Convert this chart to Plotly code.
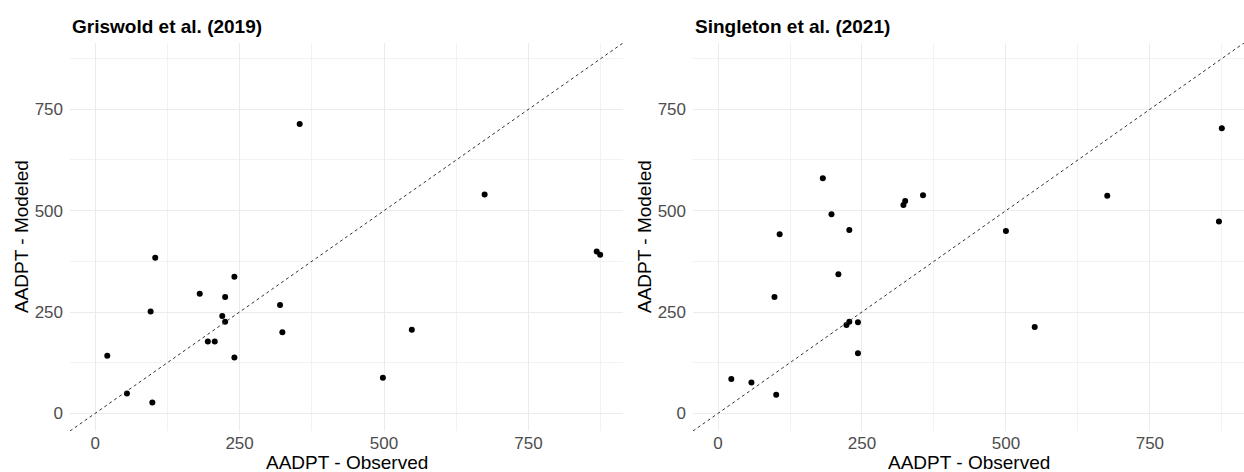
import plotly.graph_objects as go

# ---- data ----
obs_griswold = [21, 55, 96, 99, 104, 181, 195, 207, 220, 225, 225, 241, 241, 320, 324, 354, 498, 548, 674, 868, 874]
mod_griswold = [142, 49, 251, 27, 384, 295, 177, 177, 240, 287, 226, 337, 138, 267, 200, 714, 88, 206, 540, 399, 391]

obs_singleton = [23, 58, 98, 101, 107, 182, 197, 209, 223, 228, 228, 243, 243, 322, 325, 356, 500, 550, 676, 870, 875]
mod_singleton = [85, 76, 287, 46, 442, 580, 491, 343, 218, 226, 452, 225, 148, 514, 524, 538, 450, 213, 537, 473, 703]

panel_titles = ["Griswold et al. (2019)", "Singleton et al. (2021)"]
tick_vals = [0, 250, 500, 750]
minor_vals = [125, 375, 625, 875]
axis_range = [-43.5, 913.5]
x_title = "AADPT - Observed"
y_title = "AADPT - Modeled"

FONT = "Liberation Sans, Arial, sans-serif"
W, H = 1244, 472

x_domains = [[70 / W, 623 / W], [693 / W, 1.0]]
y_domain = [41 / H, 429 / H]

fig = go.Figure()

panels = [(obs_griswold, mod_griswold), (obs_singleton, mod_singleton)]
for i, (xs, ys) in enumerate(panels):
    xa = "x" if i == 0 else "x2"
    ya = "y" if i == 0 else "y2"
    fig.add_trace(go.Scatter(
        x=xs, y=ys, mode="markers", xaxis=xa, yaxis=ya,
        marker=dict(color="black", size=6, line=dict(width=0)),
        showlegend=False, hoverinfo="x+y",
    ))
    # 1:1 reference line across the panel
    fig.add_shape(type="line", xref=xa, yref=ya,
                  x0=axis_range[0], y0=axis_range[0],
                  x1=axis_range[1], y1=axis_range[1],
                  line=dict(color="#333333", width=1, dash="3px,3px"),
                  layer="above")

axis_common = dict(
    range=axis_range, tickmode="array", tickvals=tick_vals,
    showgrid=True, gridcolor="#EBEBEB", gridwidth=1.2,
    zeroline=False, showline=False, ticks="",
    tickfont=dict(family=FONT, size=17, color="#4D4D4D"),
    minor=dict(tickmode="array", tickvals=minor_vals, showgrid=True,
               gridcolor="#F2F2F2", gridwidth=0.7, ticks=""),
    automargin=False, fixedrange=True,
)

layout = dict(
    width=W, height=H,
    margin=dict(l=0, r=0, t=0, b=0),
    paper_bgcolor="white", plot_bgcolor="white",
    font=dict(family=FONT, color="black"),
)
for i in range(2):
    sx = "" if i == 0 else "2"
    layout["xaxis" + sx] = dict(axis_common, domain=x_domains[i], anchor="y" + sx, ticklabelstandoff=0)
    layout["yaxis" + sx] = dict(axis_common, domain=y_domain, anchor="x" + sx, ticklabelstandoff=6)
fig.update_layout(**layout)

annotations = []
for i in range(2):
    d = x_domains[i]
    annotations.append(dict(
        text="<b>%s</b>" % panel_titles[i], xref="paper", yref="paper",
        x=d[0], y=1 - 27 / H, xanchor="left", yanchor="middle",
        showarrow=False, font=dict(family=FONT, size=19, color="black")))
    annotations.append(dict(
        text=x_title, xref="paper", yref="paper",
        x=(d[0] + d[1]) / 2, y=1 - 462 / H, xanchor="center", yanchor="middle",
        showarrow=False, font=dict(family=FONT, size=19, color="black")))
    annotations.append(dict(
        text=y_title, xref="paper", yref="paper",
        x=(d[0] * W - 49) / W, y=(y_domain[0] + y_domain[1]) / 2,
        xanchor="center", yanchor="middle", textangle=-90,
        showarrow=False, font=dict(family=FONT, size=19, color="black")))
fig.update_layout(annotations=annotations)

fig.write_html("out.html", config={"displayModeBar": False},
               post_script="document.body.style.margin='0';document.body.style.overflow='hidden';")
